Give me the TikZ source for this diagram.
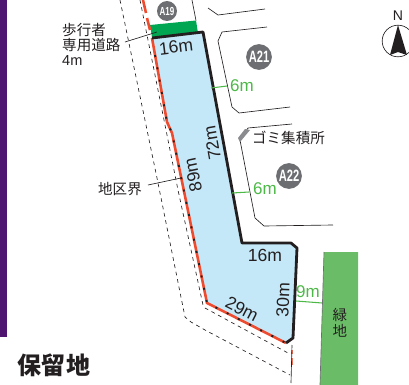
\documentclass[tikz,border=0pt]{standalone}
\usepackage{fontspec}
\setmainfont{Liberation Sans}
\newfontfamily\jpfont{Noto Sans CJK JP}
\definecolor{hokuiro}{HTML}{4F1370}
\definecolor{kukaku}{HTML}{C5E8F8}
\definecolor{hodo}{HTML}{00A651}
\definecolor{ryokuchi}{HTML}{6ABD66}
\definecolor{sunpo}{HTML}{4DB848}
\definecolor{kyokai}{HTML}{EF4B2F}
\definecolor{maru}{HTML}{6D6E71}
\definecolor{sumi}{HTML}{231F20}
\begin{document}
\begin{tikzpicture}[x=0.03cm,y=-0.03cm,sumi,
	lab/.style={text=sumi,font=\fontsize{15}{15}\selectfont,inner sep=0pt},
	sunpolab/.style={text=sunpo,font=\fontsize{14.5}{15}\selectfont,inner sep=0pt},
	jplab/.style={text=sumi,font=\jpfont\fontsize{12.4}{13.4}\selectfont,inner sep=0pt},
	badge/.style={circle,fill=maru,text=white,inner sep=0pt,font=\bfseries},
	road/.style={line width=0.55pt,sumi},
	hasen/.style={line width=0.55pt,sumi,dash pattern=on 3.2pt off 3.2pt},
	sunposen/.style={line width=0.9pt,sunpo},
	wakusen/.style={line width=2.4pt,sumi,line join=round}]
	\clip (0,0) rectangle (409,385);
	\fill[hokuiro] (0,0) rectangle (6.5,336.5);
	\fill[kukaku] (152,38)--(203,32)--(242,243)--(291,243)--(297,248)--(293,338)--(286,343)--(207,303)--(172,133)--(167,122)--cycle;
	\fill[hodo] (150,25)--(196,20.5)--(198,33)--(152,37)--cycle;
	\draw[road] (192,0)--(196,20.5);
	\draw[hasen] (120,0)--(157,178)--(185,317)--(191,322)--(205,330)--(290,375);
	\draw[hasen] (140,0)--(178,190)--(203,305)--(205,308)--(288,353);
	\draw[road] (208,8)--(218,15)--(265,9);
	\draw[road] (267,27)--(222,32)--(218,41)--(232,107)--(239,113)--(290,107);
	\draw[road] (292,124)--(248,128)--(240,140)--(255,218)--(264,226)--(333,225);
	\fill[maru!80] (245,129)--(250,130)--(240,142)--(238,138)--cycle;
	\draw[line width=2.2pt,kyokai] (143,0)--(146,13);
	\draw[line width=2.2pt,kyokai] (147,18)--(150,30);
	\draw[line width=2.2pt,kyokai] (152,38)--(167,122)--(172,133)--(207,303)--(286,343);
	\draw[line width=1.6pt,sumi,dash pattern=on 1.7pt off 9pt] (155,55)--(167,122)--(172,133)--(207,303)--(286,343);
	\draw[line width=2.2pt,kyokai!80] (292,350)--(292,354);
	\draw[line width=2.2pt,kyokai!80] (292,358)--(292,365);
	\draw[road] (292,345)--(291,383);
	\draw[wakusen] (152,38)--(203,32)--(242,243)--(291,243)--(297,248)--(293,338)--(286,343);
	\fill[ryokuchi] (324,252)--(358,252)--(358,385)--(320,385)--cycle;
	\draw[road,maru] (324,252)--(320,385);
	\draw (167,11) node[badge,minimum size=17pt] (a19) {\fontsize{10}{10}\selectfont\scalebox{0.68}[1]{A19}};
	\draw (259,57) node[badge,minimum size=22pt] (a21) {\fontsize{14}{14}\selectfont\scalebox{0.68}[1]{A21}};
	\draw (289,176) node[badge,minimum size=22pt] (a22) {\fontsize{14}{14}\selectfont\scalebox{0.68}[1]{A22}};
	\draw (176,47) node[lab,rotate=7] (top16) {16m};
	\draw (212,143) node[lab,rotate=100] (len72) {72m};
	\draw (193,175) node[lab,rotate=102] (len89) {89m};
	\draw (265,255) node[lab] (bot16) {16m};
	\draw (283,300) node[lab,rotate=88] (len30) {30m};
	\draw (242,309) node[lab,rotate=-27] (len29) {29m};
	\draw (242,86) node[sunpolab] (wid6a) {6m};
	\draw (265,189) node[sunpolab] (wid6b) {6m};
	\draw (308,292) node[sunpolab] (wid9) {9m};
	\coordinate (a6l) at (211,88);
	\coordinate (a6r) at (227,86);
	\coordinate (b6l) at (232,193);
	\coordinate (b6r) at (249,192);
	\coordinate (c9l) at (296,301);
	\coordinate (c9r) at (322,303);
	\draw[sunposen] (a6l)--(a6r);
	\draw[sunposen] (b6l)--(b6r);
	\draw[sunposen] (c9l)--(c9r);
	\draw (62,30) node[jplab,anchor=west] (hoko) {歩行者};
	\draw (62,45) node[jplab,anchor=west] (senyo) {専用道路};
	\draw (62,60) node[lab,anchor=west,font=\fontsize{12.4}{13}\selectfont] (hokow) {4m};
	\draw (120,189) node[jplab] (chiku) {地区界};
	\draw (288.5,138) node[jplab] (gomi) {ゴミ集積所};
	\draw (340,315) node[jplab] (ryoku) {緑};
	\draw (340,331) node[jplab] (chi) {地};
	\draw (54,365) node[inner sep=0pt,text=sumi,font=\jpfont\bfseries\fontsize{20.5}{21}\selectfont] (horyu) {保留地};
	\coordinate (hokoend) at (157,32);
	\coordinate (chikuend) at (181,178);
	\draw[road] (125,42)--(hokoend);
	\draw[road] (148,185)--(chikuend);
	\draw (398,41) node[circle,draw=sumi,line width=0.55pt,minimum size=27pt,inner sep=0pt] (north) {};
	\fill[sumi] (398,25)--(407,55)--(398,52)--(390,55)--cycle;
	\draw (398,16) node[lab,font=\fontsize{12}{12}\selectfont] (kita) {N};
\end{tikzpicture}
\end{document}
